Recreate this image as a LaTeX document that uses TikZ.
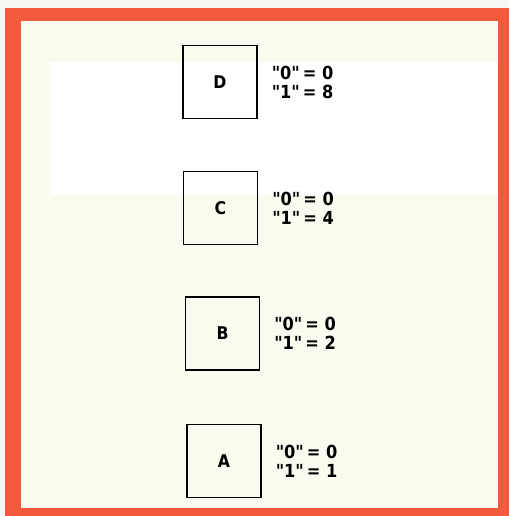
\documentclass[tikz,border=0pt]{standalone}
\usepackage{fontspec}
\newfontfamily\valfont{DejaVu Sans Condensed}
\usetikzlibrary{positioning}
\definecolor{frameorange}{HTML}{F15A3B}
\definecolor{paper}{HTML}{FBFAEF}
\definecolor{margin}{HTML}{F7F6F2}

\begin{document}
\begin{tikzpicture}[
    x=1pt, y=-1pt,
    node distance=0pt and 14pt,
    bitbox/.style={draw, line width=1.1pt, minimum width=74pt, minimum height=73pt, inner sep=0pt, font=\valfont\bfseries\fontsize{17.5}{19}\selectfont},
    weight/.style={align=left, inner sep=0pt, font=\valfont\bfseries\fontsize{18}{19}\selectfont}
]
\useasboundingbox (0,0) rectangle (509,516);
\fill[margin] (0,0) rectangle (509,516);
\fill[frameorange] (5,8) rectangle (509,516);
\fill[paper] (21,21) rectangle (498,508);
\fill[white] (50,62) rectangle (498,195);
\node[bitbox] (boxD) at (220,82) {D};
\node[bitbox] (boxC) at (220.5,208) {C};
\node[bitbox] (boxB) at (222.5,333.5) {B};
\node[bitbox] (boxA) at (224,461) {A};
\node[weight, right=of boxD] (valD) {"0"\,= 0\\"1"\,= 8};
\node[weight, right=of boxC] (valC) {"0"\,= 0\\"1"\,= 4};
\node[weight, right=of boxB] (valB) {"0"\,= 0\\"1"\,= 2};
\node[weight, right=of boxA] (valA) {"0"\,= 0\\"1"\,= 1};
\end{tikzpicture}
\end{document}
